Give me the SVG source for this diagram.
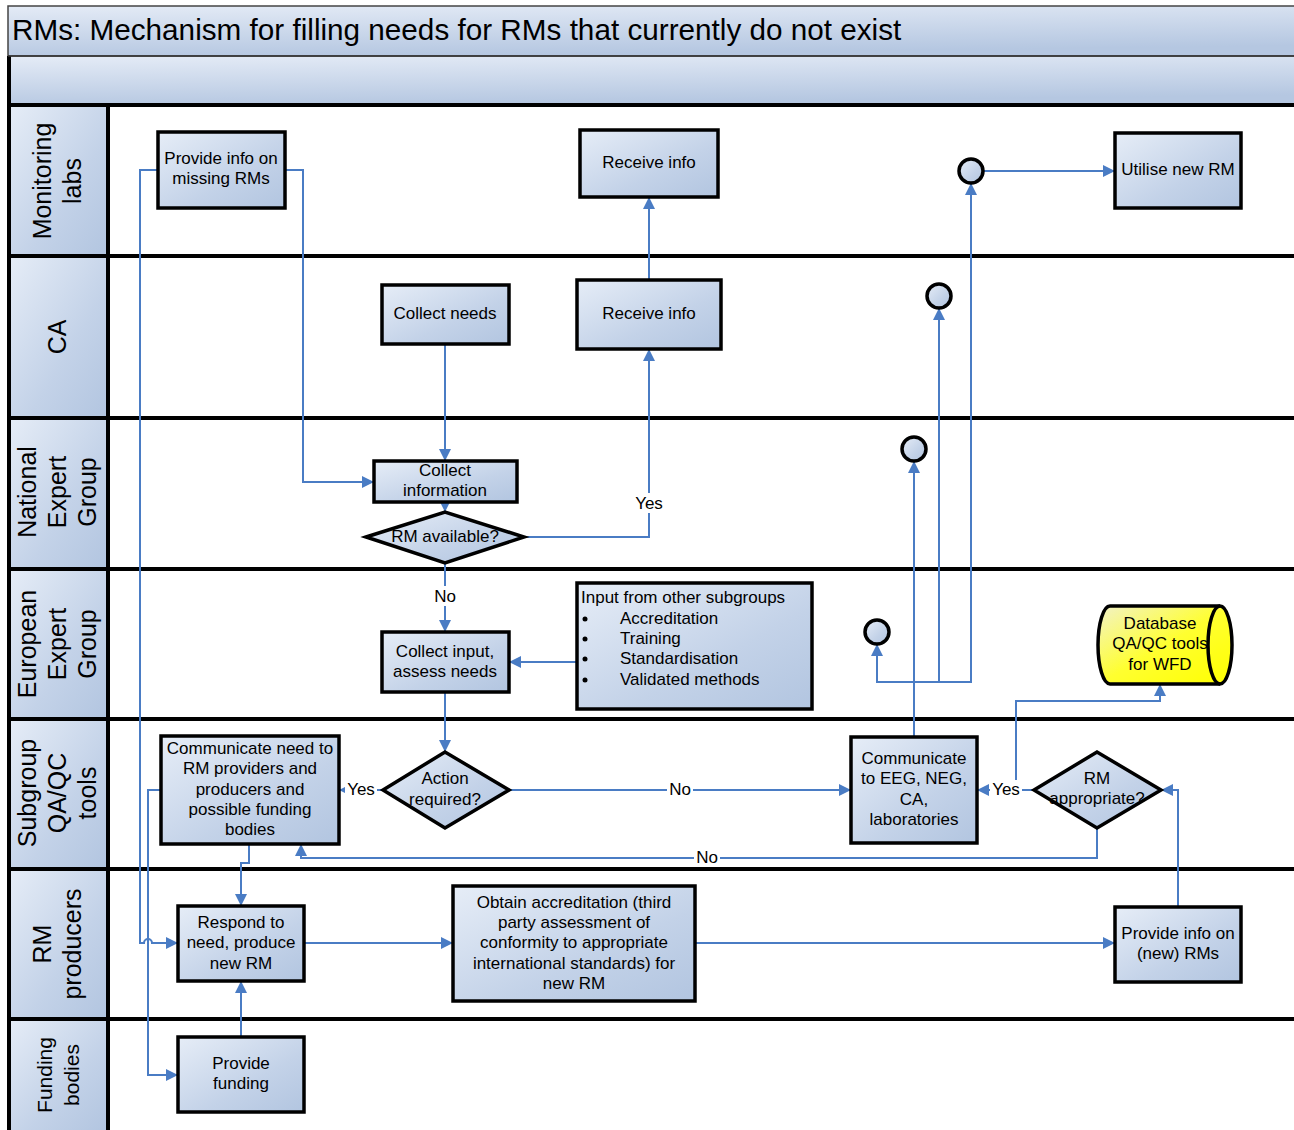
<svg xmlns="http://www.w3.org/2000/svg" width="1294" height="1130" viewBox="0 0 1294 1130">
<defs>
<linearGradient id="g" x1="0" y1="0" x2="1" y2="1">
<stop offset="0" stop-color="#e6edf7"/>
<stop offset="0.6" stop-color="#c3d2e8"/>
<stop offset="1" stop-color="#b2c5e0"/>
</linearGradient>
<linearGradient id="gb" x1="0" y1="0" x2="0.3" y2="1">
<stop offset="0" stop-color="#e4ebf6"/>
<stop offset="1" stop-color="#b5c7e1"/>
</linearGradient>
<linearGradient id="gy" x1="0" y1="0" x2="1" y2="1">
<stop offset="0" stop-color="#f2f2c8"/>
<stop offset="0.5" stop-color="#ffff30"/>
<stop offset="1" stop-color="#ffff00"/>
</linearGradient>
<marker id="ar" viewBox="0 0 12 12" refX="12" refY="6" markerWidth="12" markerHeight="12" markerUnits="userSpaceOnUse" orient="auto">
<path d="M0,0 L12,6 L0,12 Z" fill="#4a7cc4"/>
</marker>
<style>
.n{fill:url(#g);stroke:#000;stroke-width:3.5}
.c{fill:url(#g);stroke:#000;stroke-width:3.5}
.lane{fill:url(#g);stroke:none}
.div{stroke:#000;stroke-width:4}
.t{font-family:"Liberation Sans",Arial,sans-serif;font-size:17px;text-anchor:middle;fill:#000}
.tl{font-family:"Liberation Sans",Arial,sans-serif;font-size:17px;fill:#000}
.lt{font-family:"Liberation Sans",Arial,sans-serif;font-size:25px;text-anchor:middle;fill:#000}
.lts{font-family:"Liberation Sans",Arial,sans-serif;font-size:21px;text-anchor:middle;fill:#000}
.cn{fill:none;stroke:#4a7cc4;stroke-width:2}
.a{marker-end:url(#ar)}
.lb{fill:#fff}
</style>
</defs>
<rect x="0" y="0" width="1294" height="1130" fill="#fff"/>
<g id="title">
<rect x="8" y="6" width="1290" height="50" fill="url(#gb)" stroke="#444" stroke-width="1.5"/>
<text x="12" y="40" font-family="Liberation Sans, Arial, sans-serif" font-size="29.7">RMs: Mechanism for filling needs for RMs that currently do not exist</text>
<rect x="8" y="57" width="1290" height="48" fill="url(#gb)"/>
</g>
<g id="lanes">
<rect class="lane" x="8" y="106" width="100" height="150"/>
<rect class="lane" x="8" y="256" width="100" height="162"/>
<rect class="lane" x="8" y="418" width="100" height="151"/>
<rect class="lane" x="8" y="569" width="100" height="150"/>
<rect class="lane" x="8" y="719" width="100" height="150"/>
<rect class="lane" x="8" y="869" width="100" height="150"/>
<rect class="lane" x="8" y="1019" width="100" height="111"/>
<line class="div" x1="9" y1="56" x2="9" y2="1130"/>
<line class="div" x1="108" y1="105" x2="108" y2="1130"/>
<line x1="8" y1="56" x2="1294" y2="56" stroke="#333" stroke-width="1.5"/>
<line class="div" x1="8" y1="105" x2="1294" y2="105"/>
<line class="div" x1="8" y1="256" x2="1294" y2="256"/>
<line class="div" x1="8" y1="418" x2="1294" y2="418"/>
<line class="div" x1="8" y1="569" x2="1294" y2="569"/>
<line class="div" x1="8" y1="719" x2="1294" y2="719"/>
<line class="div" x1="8" y1="869" x2="1294" y2="869"/>
<line class="div" x1="8" y1="1019" x2="1294" y2="1019"/>
<g transform="translate(57,181) rotate(-90)"><text class="lt" x="0" y="-6">Monitoring</text><text class="lt" x="0" y="24">labs</text></g>
<g transform="translate(57,337) rotate(-90)"><text class="lt" x="0" y="9">CA</text></g>
<g transform="translate(57,492) rotate(-90)"><text class="lt" x="0" y="-21">National</text><text class="lt" x="0" y="9">Expert</text><text class="lt" x="0" y="39">Group</text></g>
<g transform="translate(57,644) rotate(-90)"><text class="lt" x="0" y="-21">European</text><text class="lt" x="0" y="9">Expert</text><text class="lt" x="0" y="39">Group</text></g>
<g transform="translate(57,793) rotate(-90)"><text class="lt" x="0" y="-21">Subgroup</text><text class="lt" x="0" y="9">QA/QC</text><text class="lt" x="0" y="39">tools</text></g>
<g transform="translate(57,944) rotate(-90)"><text class="lt" x="0" y="-6">RM</text><text class="lt" x="0" y="24">producers</text></g>
<g transform="translate(59,1075) rotate(-90)"><text class="lts" x="0" y="-7">Funding</text><text class="lts" x="0" y="20">bodies</text></g>
</g>
<g id="connectors">
<path class="cn a" d="M285,170 H303 V482 H374"/>
<path class="cn a" d="M158,170 H140 V943 H144 A4,4 0 0 1 152,943 H178"/>
<path class="cn a" d="M161,790 H148 V1075 H178"/>
<path class="cn a" d="M445,344 V461"/>
<path class="cn a" d="M445,500 V512"/>
<path class="cn a" d="M524,537 H649 V349"/>
<path class="cn a" d="M649,280 V197"/>
<path class="cn a" d="M445,563 V632"/>
<path class="cn a" d="M577,662 H509"/>
<path class="cn a" d="M445,692 V752"/>
<path class="cn a" d="M383,790 H339"/>
<path class="cn a" d="M509,790 H851"/>
<path class="cn a" d="M249,844 V863 H241 V906"/>
<path class="cn a" d="M241,1037 V981"/>
<path class="cn a" d="M304,943 H453"/>
<path class="cn a" d="M695,943 H1115"/>
<path class="cn a" d="M1178,907 V790 H1161"/>
<path class="cn a" d="M1034,790 H977"/>
<path class="cn a" d="M1016,790 V701 H1160 V684"/>
<path class="cn a" d="M1097,828 V858 H301 V844"/>
<path class="cn a" d="M914,737 V461"/>
<path class="cn a" d="M914,682 H971 V183"/>
<path class="cn a" d="M939,682 V308"/>
<path class="cn a" d="M914,682 H877 V644"/>
<path class="cn a" d="M983,171 H1115"/>
<rect class="lb" x="631" y="493" width="36" height="20"/>
<text class="t" x="649" y="509">Yes</text>
<rect class="lb" x="432" y="586" width="26" height="20"/>
<text class="t" x="445" y="602">No</text>
<rect class="lb" x="345" y="780" width="32" height="19"/>
<text class="t" x="361" y="795">Yes</text>
<rect class="lb" x="667" y="780" width="26" height="19"/>
<text class="t" x="680" y="795">No</text>
<rect class="lb" x="990" y="780" width="32" height="19"/>
<text class="t" x="1006" y="795">Yes</text>
<rect class="lb" x="694" y="848" width="26" height="19"/>
<text class="t" x="707" y="863">No</text>
</g>
<g id="n1"><rect class="n" x="158" y="132" width="127" height="76"/><text class="t" x="221" y="164">Provide info on</text><text class="t" x="221" y="184">missing RMs</text></g>
<g id="n2"><rect class="n" x="580" y="130" width="138" height="67"/><text class="t" x="649" y="168">Receive info</text></g>
<g id="n3"><rect class="n" x="1115" y="133" width="126" height="75"/><text class="t" x="1178" y="175">Utilise new RM</text></g>
<g id="n4"><rect class="n" x="382" y="285" width="127" height="59"/><text class="t" x="445" y="319">Collect needs</text></g>
<g id="n5"><rect class="n" x="577" y="280" width="144" height="69"/><text class="t" x="649" y="319">Receive info</text></g>
<g id="n6"><rect class="n" x="374" y="461" width="143" height="41"/><text class="t" x="445" y="476">Collect</text><text class="t" x="445" y="496">information</text></g>
<g id="n7"><polygon class="n" points="366,537 445,512 524,537 445,563"/><text class="t" x="445" y="542">RM available?</text></g>
<g id="n8"><rect class="n" x="382" y="632" width="127" height="60"/><text class="t" x="445" y="657">Collect input,</text><text class="t" x="445" y="677">assess needs</text></g>
<g id="n9"><rect class="n" x="577" y="583" width="235" height="126"/>
<text class="tl" x="581" y="603">Input from other subgroups</text>
<circle cx="585" cy="619" r="2.5"/><text class="tl" x="620" y="624">Accreditation</text>
<circle cx="585" cy="639" r="2.5"/><text class="tl" x="620" y="644">Training</text>
<circle cx="585" cy="659" r="2.5"/><text class="tl" x="620" y="664">Standardisation</text>
<circle cx="585" cy="680" r="2.5"/><text class="tl" x="620" y="685">Validated methods</text></g>
<g id="n10"><polygon class="n" points="383,790 445,752 509,790 445,828"/><text class="t" x="445" y="784">Action</text><text class="t" x="445" y="805">required?</text></g>
<g id="n11"><rect class="n" x="161" y="736" width="178" height="108"/><text class="t" x="250" y="754">Communicate need to</text><text class="t" x="250" y="774">RM providers and</text><text class="t" x="250" y="795">producers and</text><text class="t" x="250" y="815">possible funding</text><text class="t" x="250" y="835">bodies</text></g>
<g id="n12"><rect class="n" x="851" y="737" width="126" height="106"/><text class="t" x="914" y="764">Communicate</text><text class="t" x="914" y="784">to EEG, NEG,</text><text class="t" x="914" y="805">CA,</text><text class="t" x="914" y="825">laboratories</text></g>
<g id="n13"><polygon class="n" points="1034,790 1097,752 1161,790 1097,828"/><text class="t" x="1097" y="784">RM</text><text class="t" x="1097" y="804">appropriate?</text></g>
<g id="n14"><path d="M1110,606 H1220 A12,39 0 0 1 1220,684 H1110 A12,39 0 0 1 1110,606 Z" fill="url(#gy)" stroke="#000" stroke-width="3.5"/><path d="M1220,606 A12,39 0 0 0 1220,684" fill="none" stroke="#000" stroke-width="3.5"/><text class="t" x="1160" y="629">Database</text><text class="t" x="1160" y="649">QA/QC tools</text><text class="t" x="1160" y="670">for WFD</text></g>
<g id="n15"><rect class="n" x="178" y="906" width="126" height="75"/><text class="t" x="241" y="928">Respond to</text><text class="t" x="241" y="948">need, produce</text><text class="t" x="241" y="969">new RM</text></g>
<g id="n16"><rect class="n" x="453" y="886" width="242" height="115"/><text class="t" x="574" y="908">Obtain accreditation (third</text><text class="t" x="574" y="928">party assessment of</text><text class="t" x="574" y="948">conformity to appropriate</text><text class="t" x="574" y="969">international standards) for</text><text class="t" x="574" y="989">new RM</text></g>
<g id="n17"><rect class="n" x="1115" y="907" width="126" height="75"/><text class="t" x="1178" y="939">Provide info on</text><text class="t" x="1178" y="959">(new) RMs</text></g>
<g id="n18"><rect class="n" x="178" y="1037" width="126" height="75"/><text class="t" x="241" y="1069">Provide</text><text class="t" x="241" y="1089">funding</text></g>
<g id="c1"><circle class="c" cx="971" cy="171" r="12"/></g>
<g id="c2"><circle class="c" cx="939" cy="296" r="12"/></g>
<g id="c3"><circle class="c" cx="914" cy="449" r="12"/></g>
<g id="c4"><circle class="c" cx="877" cy="632" r="12"/></g>
</svg>
